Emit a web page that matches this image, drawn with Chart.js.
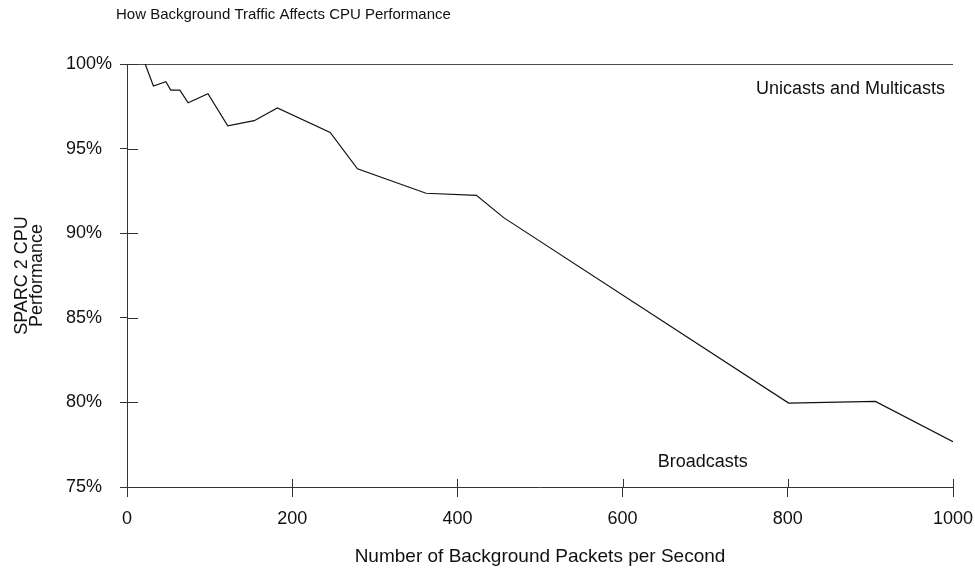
<!DOCTYPE html>
<html>
<head>
<meta charset="utf-8">
<script src="https://cdn.jsdelivr.net/npm/chart.js@4.4.1/dist/chart.umd.min.js"></script>
<style>
  html, body { margin: 0; padding: 0; background: #fff; }
  canvas { display: block; }
</style>
</head>
<body>
<canvas id="chart" width="975" height="570"></canvas>
<script>
// ---- Data ----
const broadcastX = [22, 32, 47, 53, 64, 74, 98, 122, 154, 182, 246, 279, 362, 423, 456, 801, 906, 1000];
const broadcastY = [100, 98.7, 98.95, 98.46, 98.46, 97.71, 98.24, 96.35, 96.65, 97.4, 95.96, 93.81, 92.36, 92.24, 90.92, 79.96, 80.06, 77.68];
const unicastX = [0, 1000];
const unicastY = [100, 100];

const xTicks = [0, 200, 400, 600, 800, 1000];
const yTicks = [75, 80, 85, 90, 95, 100];

const chartTitle = 'How Background Traffic Affects CPU Performance';
const xTitle = 'Number of Background Packets per Second';
const yTitle = ['SPARC 2 CPU', 'Performance'];

// series labels, placed in data units
const seriesLabels = [
  { text: 'Unicasts and Multicasts', x: 876, y: 98.55 },
  { text: 'Broadcasts', x: 697, y: 76.45 }
];

const INK = '#111';
const AXIS = '#333';
const FONT = '"Liberation Sans", Arial, Helvetica, sans-serif';
Chart.defaults.font.family = FONT;

const toPoints = (xs, ys) => xs.map((x, i) => ({ x, y: ys[i] }));

// ---- Extras: inward half of tick marks, left-aligned y labels, title, series labels ----
const extras = {
  id: 'extras',
  afterDatasetsDraw(chart) {
    const { ctx, chartArea, scales: { x, y } } = chart;
    ctx.save();
    ctx.strokeStyle = AXIS;
    ctx.lineWidth = 1;
    ctx.beginPath();
    xTicks.forEach(v => {
      const px = Math.round(x.getPixelForValue(v)) + 0.5;
      ctx.moveTo(px, chartArea.bottom);
      ctx.lineTo(px, chartArea.bottom - 8);
    });
    yTicks.forEach(v => {
      const py = Math.round(y.getPixelForValue(v)) + 0.5;
      ctx.moveTo(chartArea.left, py);
      ctx.lineTo(chartArea.left + 11, py);
    });
    ctx.stroke();

    ctx.fillStyle = INK;
    ctx.textBaseline = 'middle';
    ctx.textAlign = 'left';
    ctx.font = '18px ' + FONT;
    yTicks.forEach(v => ctx.fillText(v + '%', 66, y.getPixelForValue(v)));

    ctx.font = '15px ' + FONT;
    ctx.fillText(chartTitle, 116, 15);

    ctx.textAlign = 'center';
    ctx.font = '18px ' + FONT;
    seriesLabels.forEach(l => {
      ctx.fillText(l.text, x.getPixelForValue(l.x), y.getPixelForValue(l.y));
    });
    ctx.restore();
  }
};

new Chart(document.getElementById('chart'), {
  type: 'line',
  data: {
    datasets: [
      { label: 'Unicasts and Multicasts', data: toPoints(unicastX, unicastY), borderColor: INK, borderWidth: 1.5, pointRadius: 0, tension: 0 },
      { label: 'Broadcasts', data: toPoints(broadcastX, broadcastY), borderColor: INK, borderWidth: 1.2, pointRadius: 0, tension: 0 }
    ]
  },
  options: {
    responsive: false,
    animation: false,
    layout: { padding: { top: 64, right: 22, left: 0, bottom: 0 } },
    plugins: { legend: { display: false }, tooltip: { enabled: false } },
    scales: {
      x: {
        type: 'linear', min: 0, max: 1000,
        afterBuildTicks: s => { s.ticks = xTicks.map(v => ({ value: v })); },
        afterFit: s => { s.height = 83; s.paddingLeft = 0; s.paddingRight = 0; },
        grid: { drawOnChartArea: false, drawTicks: true, tickLength: 10, color: AXIS },
        border: { display: true, color: AXIS, width: 1 },
        ticks: { color: INK, font: { size: 18 }, padding: 11, maxRotation: 0, callback: v => String(v) },
        title: { display: true, text: xTitle, color: INK, font: { size: 19 }, padding: { top: 0, bottom: 2 } }
      },
      y: {
        min: 75, max: 100,
        afterBuildTicks: s => { s.ticks = yTicks.map(v => ({ value: v })); },
        afterFit: s => { s.width = 127; s.paddingTop = 0; s.paddingBottom = 0; },
        grid: { drawOnChartArea: false, drawTicks: true, tickLength: 7, color: AXIS },
        border: { display: true, color: AXIS, width: 1 },
        ticks: { display: false },
        title: { display: true, text: yTitle, color: INK, font: { size: 18, lineHeight: 0.84 }, padding: { top: 14, bottom: 0 } }
      }
    }
  },
  plugins: [extras]
});
</script>
</body>
</html>
